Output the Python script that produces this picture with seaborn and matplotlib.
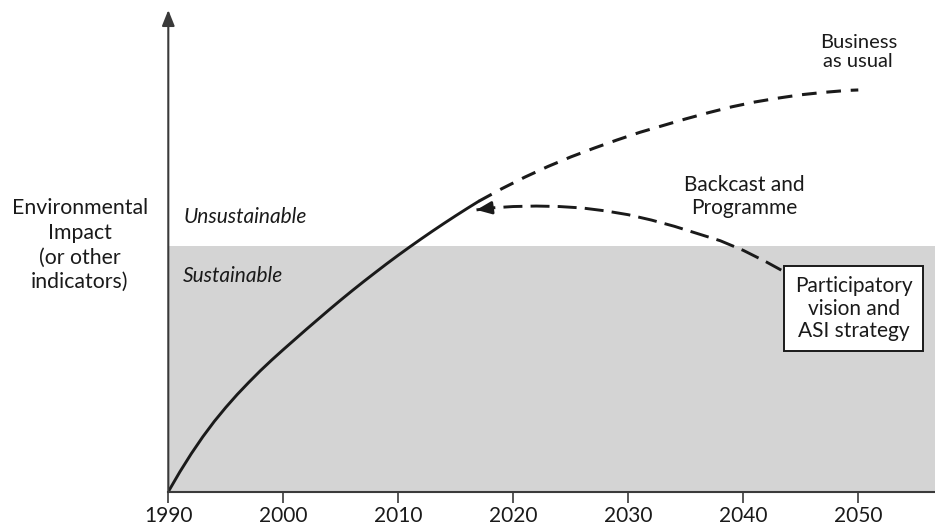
import numpy as np
import pandas as pd
import matplotlib
matplotlib.use("Agg")
import matplotlib.pyplot as plt
import seaborn as sns

# Values (impact on a 0-100 scale)
years_hist = [1990, 1991, 1992, 1993, 1994, 1995, 1996, 1997, 1998, 1999, 2000,
              2001, 2002, 2003, 2004, 2005, 2006, 2007, 2008, 2009, 2010,
              2011, 2012, 2013, 2014, 2015, 2016, 2017]
impact_hist = [0, 4.1, 7.9, 11.4, 14.6, 17.5, 20.2, 22.7, 25.1, 27.35, 29.5,
               31.6, 33.7, 35.75, 37.8, 39.8, 41.75, 43.65, 45.5, 47.33, 49.1,
               50.82, 52.5, 54.14, 55.74, 57.3, 58.82, 60.3]

years_bau = [2017, 2019, 2021, 2023, 2025, 2027, 2029, 2031, 2033, 2035,
             2037, 2039, 2041, 2043, 2045, 2047, 2049, 2050]
impact_bau = [60.3, 62.9, 65.3, 67.5, 69.5, 71.3, 73.0, 74.6, 76.0, 77.4,
              78.7, 79.9, 80.9, 81.7, 82.4, 82.9, 83.3, 83.4]

years_back = [2016.8, 2018, 2020, 2022, 2024, 2026, 2028, 2030, 2032, 2034,
              2036, 2038, 2040, 2042, 2043.3]
impact_back = [58.5, 58.9, 59.2, 59.3, 59.2, 58.9, 58.3, 57.5, 56.4, 55.1,
               53.6, 52.1, 50.1, 47.7, 46.0]

sustainable_limit = 51
x_ticks = [1990, 2000, 2010, 2020, 2030, 2040, 2050]

sns.set_style("white")
plt.rcParams['font.family'] = ['Lato', 'DejaVu Sans']
ink = '#1a1a1a'
axis_col = '#3a3a3a'

fig = plt.figure(figsize=(9.35, 5.26), dpi=100)
ax = fig.add_axes([168.3 / 935, (526 - 491.7) / 526, (935 - 168.3) / 935, (491.7 - 10) / 526])
ax.set_xlim(1990, 1990 + (935 - 168.3) / 11.5)
ax.set_ylim(0, 100)

# sustainable zone
ax.axhspan(0, sustainable_limit, color='#d4d4d4', lw=0, zorder=0)

hist = pd.DataFrame({'year': years_hist, 'impact': impact_hist})
bau = pd.DataFrame({'year': years_bau, 'impact': impact_bau})
back = pd.DataFrame({'year': years_back, 'impact': impact_back})

sns.lineplot(data=hist, x='year', y='impact', color=ink, lw=2.1, ax=ax, sort=False)
sns.lineplot(data=bau, x='year', y='impact', color=ink, lw=2.2, ax=ax, sort=False,
             linestyle=(0, (4.8, 3.2)))
sns.lineplot(data=back, x='year', y='impact', color=ink, lw=2.1, ax=ax, sort=False,
             linestyle=(0, (6.5, 2.8)))

# arrow head of the backcast line
tip_x, tip_y = years_back[0], impact_back[0]
base_x = tip_x + 1.3
base_y = np.interp(base_x, years_back, impact_back)
ax.annotate('', xy=(tip_x, tip_y), xytext=(base_x, base_y),
            arrowprops=dict(arrowstyle='-|>,head_length=0.9,head_width=0.38',
                            color=ink, lw=2.0, shrinkA=0, shrinkB=0))

# axes styling
for s in ['top', 'right', 'left']:
    ax.spines[s].set_visible(False)
ax.spines['bottom'].set_color(axis_col)
ax.spines['bottom'].set_linewidth(1.5)
ax.annotate('', xy=(0, 1), xytext=(0, 0), xycoords='axes fraction',
            arrowprops=dict(arrowstyle='-|>,head_length=0.95,head_width=0.38',
                            color=axis_col, lw=1.5, shrinkA=0, shrinkB=0),
            annotation_clip=False)
ax.set_xticks(x_ticks)
ax.set_xticklabels([str(t) for t in x_ticks])
ax.set_yticks([])
ax.tick_params(axis='x', direction='out', length=8, width=1.2, color=axis_col,
               labelsize=15, pad=2, labelcolor=ink, bottom=True)
ax.set_xlabel('')
ax.set_ylabel('')

# texts
fig.text(80 / 935, 1 - 245 / 526, 'Environmental\nImpact\n(or other\nindicators)',
         ha='center', va='center', multialignment='center', fontsize=15.3,
         linespacing=1.3, color=ink)
ax.text(1991.3, 57.0, 'Unsustainable', style='italic', fontsize=15, color=ink,
        ha='left', va='center')
ax.text(1991.3, 44.8, 'Sustainable', style='italic', fontsize=15, color=ink,
        ha='left', va='center')
ax.text(2050.0, 91.3, 'Business\nas usual', ha='center', va='center', fontsize=14.5,
        linespacing=1.2, color=ink)
ax.text(2040.1, 61.2, 'Backcast and\nProgramme', ha='center', va='center', fontsize=15,
        linespacing=1.2, color=ink)
ax.text(2049.6, 38.0, 'Participatory\nvision and\nASI strategy', ha='center', va='center',
        fontsize=15, linespacing=1.15, color=ink,
        bbox=dict(boxstyle='square,pad=0.5', fc='white', ec=ink, lw=1.4))

fig.savefig('out.png', dpi=100)
